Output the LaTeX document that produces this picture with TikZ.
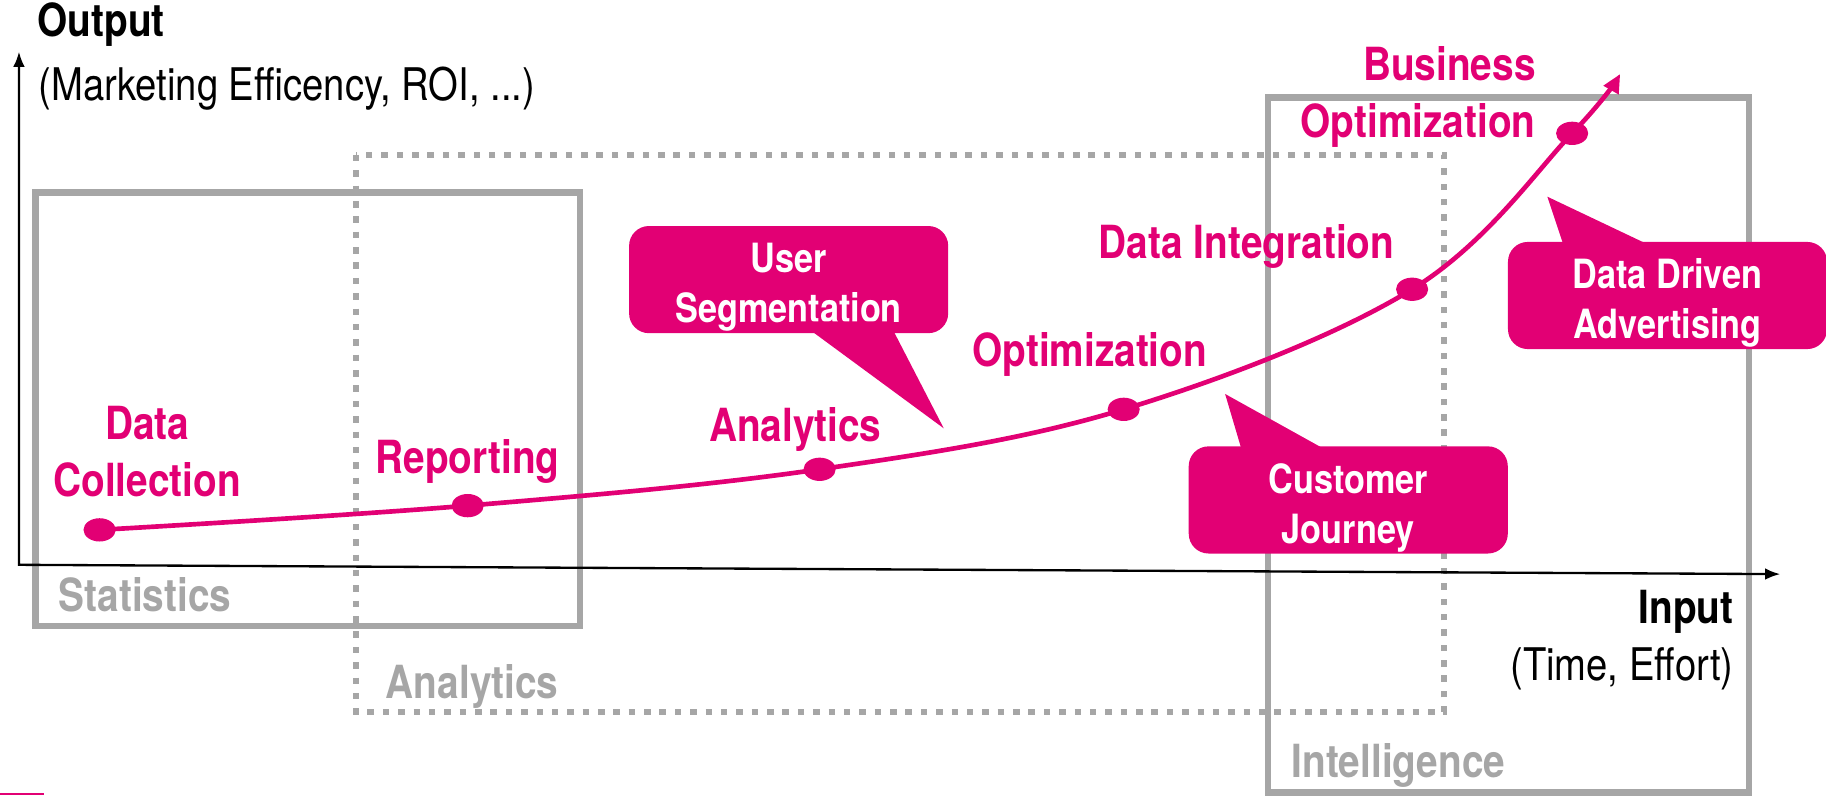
\documentclass[tikz,border=0pt]{standalone}
\usepackage{fontspec}
\setmainfont{TeX Gyre Heros}[FakeStretch=0.85]
\usetikzlibrary{arrows.meta,shapes.geometric}
\definecolor{tmag}{HTML}{E20074}
\definecolor{tgray}{HTML}{A6A6A6}
\tikzset{
  phase/.style={draw=tgray,line width=2.8pt},
  phasedotted/.style={draw=tgray,line width=2.6pt,dash pattern=on 2.8pt off 3.8pt},
  axisline/.style={line width=1pt,{Latex[length=6.5pt,width=5pt]}-{Latex[length=6.5pt,width=5pt]}},
  growth/.style={tmag,line width=2pt,-{Triangle[length=8pt,width=7pt]}},
  stagedot/.style={ellipse,fill=tmag,inner sep=0pt,minimum width=13.8pt,minimum height=10pt},
  stage/.style={text=tmag,font=\fontsize{19.6}{24.5}\selectfont\bfseries,inner sep=0pt,align=center,anchor=base},
  phaselabel/.style={text=tgray,font=\fontsize{19.6}{24.5}\selectfont\bfseries,inner sep=0pt,anchor=base west},
  axislabel/.style={font=\fontsize{19.6}{24.5}\selectfont\bfseries,inner sep=0pt},
  axissub/.style={font=\fontsize{19.3}{24}\selectfont,inner sep=0pt},
  bubble/.style={rectangle,rounded corners=8.5pt,fill=tmag,inner sep=0pt,minimum width=137pt,minimum height=46pt},
  bubbletext/.style={text=white,font=\fontsize{17.3}{21.5}\selectfont\bfseries,align=center,inner sep=0pt,yshift=-3.3pt},
}
\begin{document}
\begin{tikzpicture}[x=0.5pt,y=-0.5pt]
  \useasboundingbox (0,0) rectangle (1568,683);

  % phases
  \draw[phase] (30.6,165.4) rectangle (498,537.5);
  \draw[phasedotted] (305.6,133) rectangle (1240,611.5);
  \draw[phase] (1089,83.6) rectangle (1502,680.6);
  \node[phaselabel] (stat) at (50,525) {Statistics};
  \node[phaselabel] (anal) at (331,599.6) {Analytics};
  \node[phaselabel] (intel) at (1108.8,667.5) {Intelligence};

  % axes
  \coordinate (orig) at (16.3,485);
  \coordinate (ytip) at (16.3,44.4);
  \coordinate (xtip) at (1528.7,493);
  \draw[axisline] (ytip) -- (orig) -- (xtip);
  \node[axislabel,anchor=base west] (out) at (32,31.5) {Output};
  \node[axissub,anchor=base west] (outsub) at (33,86) {(Marketing Efficency, ROI, ...)};
  \node[axislabel,anchor=base east] (in) at (1489,535) {Input};
  \node[axissub,anchor=base east] (insub) at (1489,584) {(Time, Effort)};

  % growth curve
  \node[stagedot] (pcoll) at (85.5,455) {};
  \node[stagedot] (prep) at (401.6,434.2) {};
  \node[stagedot] (pana) at (703.8,403) {};
  \node[stagedot] (popt) at (964.9,351.5) {};
  \node[stagedot] (pint) at (1212.6,248.4) {};
  \node[stagedot] (pbiz) at (1350,114.5) {};
  \coordinate (ctip) at (1391.3,63.5);
  \draw[growth] plot[smooth,tension=0.6] coordinates {(pcoll.center) (prep.center) (pana.center) (popt.center) (pint.center) (pbiz.center) (ctip)};

  \node[stage] (lcoll) at (126.4,426.5) {Data\\Collection};
  \node[stage] (lrep) at (401.5,406.4) {Reporting};
  \node[stage] (lana) at (682.9,379.2) {Analytics};
  \node[stage] (lopt) at (935.8,314.9) {Optimization};
  \node[stage] (lint) at (1070.4,221.8) {Data Integration};
  \node[stage,align=right,anchor=base east] (lbiz) at (1319,118) {Business\\Optimization};

  % call-outs
  \node[bubble,label={[bubbletext]center:{User\\Segmentation}}] (useg) at (677.2,240.1) {};
  \node[bubble,label={[bubbletext]center:{Customer\\Journey}}] (cjour) at (1157.75,429.3) {};
  \node[bubble,label={[bubbletext]center:{Data Driven\\Advertising}}] (dda) at (1431.9,253.75) {};
  \fill[tmag] (685.6,276) -- (810.4,367.8) -- (763,276) -- cycle;
  \fill[tmag] (1068.2,393) -- (1052,338.3) -- (1150.5,393) -- cycle;
  \fill[tmag] (1344.7,217) -- (1328.7,168.9) -- (1430,217) -- cycle;

  \draw[tmag,line width=0.8pt] (0,682) -- (38,682);
\end{tikzpicture}
\end{document}
